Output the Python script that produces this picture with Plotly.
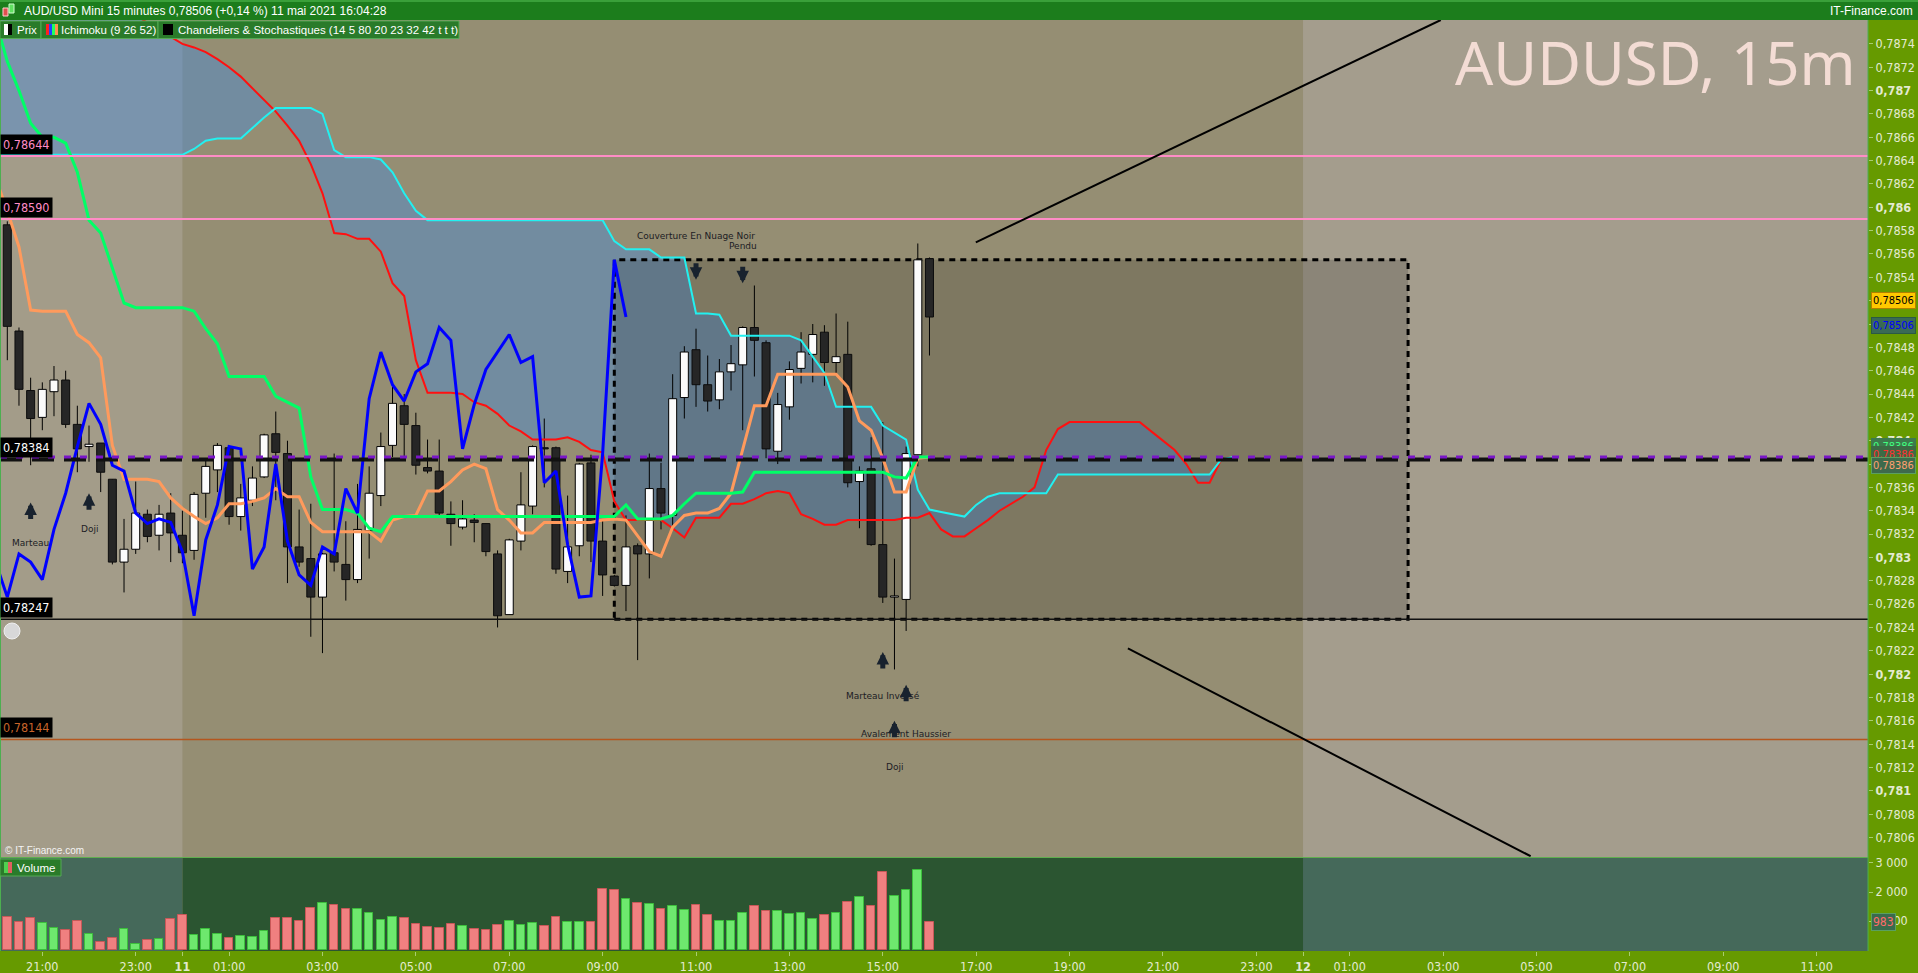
import pandas as pd
import plotly.graph_objects as go

# ---------------------------------------------------------------- data
bar_start = "2021-05-10 20:15"          # first 15-minute candle
bar_minutes = 15

opens = [0.78585, 0.78494, 0.78443, 0.78420, 0.78442, 0.78452, 0.78414, 0.78395, 0.78398, 0.78367,
         0.78296, 0.78307, 0.78337, 0.78319, 0.78338, 0.78319, 0.78306, 0.78355, 0.78375, 0.78394,
         0.78335, 0.78349, 0.78369, 0.78406, 0.78389, 0.78309, 0.78299, 0.78266, 0.78304, 0.78294,
         0.78281, 0.78323, 0.78353, 0.78396, 0.78430, 0.78413, 0.78377, 0.78374, 0.78337, 0.78326,
         0.78332, 0.78329, 0.78303, 0.78251, 0.78314, 0.78344, 0.78394, 0.78394, 0.78288, 0.78310,
         0.78381, 0.78314, 0.78284, 0.78276, 0.78310, 0.78303, 0.78359, 0.78336, 0.78437, 0.78478,
         0.78448, 0.78435, 0.78459, 0.78465, 0.78497, 0.78484, 0.78391, 0.78429, 0.78462, 0.78474,
         0.78493, 0.78467, 0.78474, 0.78365, 0.78376, 0.78311, 0.78266, 0.78264, 0.78388, 0.78556]
highs = [0.78588, 0.78497, 0.78454, 0.78450, 0.78464, 0.78460, 0.78430, 0.78413, 0.78398, 0.78367,
         0.78333, 0.78365, 0.78341, 0.78345, 0.78355, 0.78340, 0.78356, 0.78384, 0.78398, 0.78395,
         0.78363, 0.78378, 0.78406, 0.78425, 0.78400, 0.78341, 0.78346, 0.78304, 0.78389, 0.78331,
         0.78363, 0.78378, 0.78407, 0.78446, 0.78440, 0.78424, 0.78401, 0.78401, 0.78348, 0.78349,
         0.78337, 0.78329, 0.78306, 0.78316, 0.78373, 0.78396, 0.78419, 0.78395, 0.78353, 0.78381,
         0.78388, 0.78332, 0.78285, 0.78336, 0.78312, 0.78389, 0.78381, 0.78457, 0.78481, 0.78496,
         0.78473, 0.78470, 0.78482, 0.78498, 0.78533, 0.78486, 0.78441, 0.78468, 0.78493, 0.78500,
         0.78499, 0.78509, 0.78502, 0.78378, 0.78403, 0.78416, 0.78299, 0.78395, 0.78569, 0.78557]
lows = [0.78469, 0.78430, 0.78379, 0.78409, 0.78421, 0.78411, 0.78373, 0.78382, 0.78356, 0.78294,
        0.78270, 0.78303, 0.78313, 0.78306, 0.78296, 0.78295, 0.78298, 0.78334, 0.78356, 0.78328,
        0.78323, 0.78344, 0.78368, 0.78349, 0.78278, 0.78292, 0.78232, 0.78218, 0.78288, 0.78263,
        0.78278, 0.78299, 0.78344, 0.78386, 0.78386, 0.78371, 0.78372, 0.78336, 0.78310, 0.78324,
        0.78313, 0.78301, 0.78240, 0.78251, 0.78306, 0.78337, 0.78360, 0.78286, 0.78278, 0.78301,
        0.78296, 0.78267, 0.78275, 0.78254, 0.78212, 0.78282, 0.78324, 0.78325, 0.78419, 0.78429,
        0.78425, 0.78427, 0.78443, 0.78409, 0.78455, 0.78385, 0.78380, 0.78418, 0.78449, 0.78450,
        0.78447, 0.78458, 0.78360, 0.78325, 0.78310, 0.78261, 0.78204, 0.78237, 0.78378, 0.78473]
closes = [0.78498, 0.78444, 0.78419, 0.78444, 0.78452, 0.78414, 0.78393, 0.78397, 0.78373, 0.78296,
          0.78307, 0.78338, 0.78318, 0.78337, 0.78321, 0.78304, 0.78354, 0.78378, 0.78396, 0.78335,
          0.78351, 0.78368, 0.78405, 0.78390, 0.78309, 0.78296, 0.78266, 0.78303, 0.78296, 0.78281,
          0.78324, 0.78355, 0.78395, 0.78432, 0.78414, 0.78379, 0.78374, 0.78338, 0.78329, 0.78333,
          0.78330, 0.78305, 0.78250, 0.78315, 0.78345, 0.78395, 0.78393, 0.78290, 0.78309, 0.78380,
          0.78314, 0.78285, 0.78276, 0.78309, 0.78303, 0.78359, 0.78338, 0.78436, 0.78476, 0.78448,
          0.78434, 0.78459, 0.78466, 0.78497, 0.78486, 0.78393, 0.78431, 0.78461, 0.78476, 0.78491,
          0.78467, 0.78472, 0.78364, 0.78374, 0.78311, 0.78266, 0.78267, 0.78389, 0.78555, 0.78506]
volumes = [1126, 954, 1092, 919, 747, 678, 988, 540, 264, 402,
           712, 195, 333, 368, 1057, 1195, 506, 712, 540, 402,
           471, 437, 643, 1092, 1092, 988, 1436, 1609, 1540, 1402,
           1402, 1264, 1023, 1126, 1092, 885, 781, 747, 885, 816,
           712, 678, 850, 988, 850, 919, 816, 1126, 954, 954,
           954, 2091, 2057, 1746, 1609, 1574, 1402, 1505, 1367, 1540,
           1195, 988, 988, 1264, 1505, 1333, 1333, 1229, 1264, 1057,
           1195, 1264, 1643, 1815, 1505, 2677, 1850, 2057, 2746, 983]

# Ichimoku (9 26 52); lists start one bar before the first candle (bar -1)
ichi_first_bar = -1
tenkan_orange = [0.78625, 0.78597, 0.78566, 0.78512, 0.78511, 0.78511, 0.78511, 0.78491, 0.78484, 0.78471,
                 0.78396, 0.78367, 0.78367, 0.78367, 0.78365, 0.78351, 0.78342, 0.78335, 0.78329, 0.78334,
                 0.78346, 0.78346, 0.78348, 0.78351, 0.78359, 0.78352, 0.78352, 0.78330, 0.78322, 0.78322,
                 0.78322, 0.78322, 0.78322, 0.78314, 0.78332, 0.78335, 0.78336, 0.78357, 0.78357, 0.78365,
                 0.78375, 0.78380, 0.78376, 0.78341, 0.78332, 0.78321, 0.78321, 0.78330, 0.78330, 0.78330,
                 0.78330, 0.78330, 0.78332, 0.78333, 0.78332, 0.78318, 0.78305, 0.78301, 0.78326, 0.78336,
                 0.78338, 0.78338, 0.78342, 0.78355, 0.78392, 0.78430, 0.78430, 0.78457, 0.78457, 0.78457,
                 0.78457, 0.78457, 0.78457, 0.78446, 0.78417, 0.78409, 0.78385, 0.78356, 0.78356, 0.78385,
                 0.78386]
kijun_green = [0.78760, 0.78725, 0.78700, 0.78672, 0.78660, 0.78660, 0.78655, 0.78630, 0.78589, 0.78578,
               0.78548, 0.78518, 0.78514, 0.78514, 0.78514, 0.78514, 0.78514, 0.78511, 0.78496, 0.78483,
               0.78455, 0.78455, 0.78455, 0.78455, 0.78438, 0.78433, 0.78428, 0.78369, 0.78341, 0.78341,
               0.78341, 0.78338, 0.78325, 0.78322, 0.78335, 0.78335, 0.78335, 0.78335, 0.78335, 0.78335,
               0.78335, 0.78335, 0.78335, 0.78335, 0.78335, 0.78335, 0.78335, 0.78335, 0.78335, 0.78335,
               0.78335, 0.78335, 0.78335, 0.78335, 0.78345, 0.78333, 0.78333, 0.78333, 0.78336, 0.78346,
               0.78355, 0.78355, 0.78355, 0.78355, 0.78356, 0.78373, 0.78373, 0.78373, 0.78373, 0.78373,
               0.78373, 0.78373, 0.78373, 0.78373, 0.78373, 0.78373, 0.78373, 0.78369, 0.78368, 0.78386,
               0.78386]
senkou_a_red = [0.78840, 0.78835, 0.78830, 0.78825, 0.78820, 0.78815, 0.78810, 0.78805, 0.78800, 0.78795,
                0.78785, 0.78775, 0.78765, 0.78758, 0.78752, 0.78746, 0.78740, 0.78737, 0.78733, 0.78727,
                0.78720, 0.78712, 0.78702, 0.78692, 0.78682, 0.78670, 0.78657, 0.78637, 0.78612, 0.78578,
                0.78577, 0.78573, 0.78573, 0.78562, 0.78535, 0.78524, 0.78469, 0.78441, 0.78441, 0.78441,
                0.78440, 0.78433, 0.78430, 0.78423, 0.78413, 0.78408, 0.78401, 0.78401, 0.78401, 0.78403,
                0.78399, 0.78392, 0.78390, 0.78348, 0.78332, 0.78332, 0.78332, 0.78332, 0.78325, 0.78317,
                0.78334, 0.78334, 0.78334, 0.78346, 0.78346, 0.78350, 0.78355, 0.78357, 0.78355, 0.78337,
                0.78333, 0.78328, 0.78328, 0.78332, 0.78332, 0.78332, 0.78332, 0.78332, 0.78334, 0.78334,
                0.78338, 0.78324, 0.78318, 0.78318, 0.78325, 0.78332, 0.78340, 0.78346, 0.78352, 0.78360,
                0.78392, 0.78410, 0.78416, 0.78416, 0.78416, 0.78416, 0.78416, 0.78416, 0.78416, 0.78408,
                0.78400, 0.78392, 0.78380, 0.78364, 0.78364, 0.78384, 0.78386]
senkou_b_cyan = [0.78645, 0.78645, 0.78645, 0.78645, 0.78645, 0.78645, 0.78645, 0.78645, 0.78645, 0.78645,
                 0.78645, 0.78645, 0.78645, 0.78645, 0.78645, 0.78645, 0.78645, 0.78650, 0.78657, 0.78659,
                 0.78659, 0.78659, 0.78668, 0.78677, 0.78685, 0.78685, 0.78685, 0.78685, 0.78680, 0.78649,
                 0.78643, 0.78643, 0.78643, 0.78641, 0.78630, 0.78612, 0.78597, 0.78589, 0.78589, 0.78589,
                 0.78589, 0.78589, 0.78589, 0.78589, 0.78589, 0.78589, 0.78589, 0.78589, 0.78589, 0.78589,
                 0.78589, 0.78589, 0.78589, 0.78571, 0.78564, 0.78564, 0.78564, 0.78557, 0.78557, 0.78557,
                 0.78509, 0.78509, 0.78508, 0.78490, 0.78490, 0.78490, 0.78490, 0.78490, 0.78490, 0.78486,
                 0.78472, 0.78458, 0.78429, 0.78429, 0.78429, 0.78429, 0.78413, 0.78407, 0.78401, 0.78358,
                 0.78341, 0.78339, 0.78337, 0.78335, 0.78345, 0.78352, 0.78355, 0.78355, 0.78355, 0.78355,
                 0.78355, 0.78371, 0.78371, 0.78371, 0.78371, 0.78371, 0.78371, 0.78371, 0.78371, 0.78371,
                 0.78371, 0.78371, 0.78371, 0.78371, 0.78371, 0.78384, 0.78386]
chikou_shift = 26

# horizontal levels drawn on the chart
level_values = [0.78644, 0.78590, 0.78384, 0.78247, 0.78144]
level_labels = ["0,78644", "0,78590", "0,78384", "0,78247", "0,78144"]
level_colors = ["#ff8cc6", "#ff8cc6", "#111111", "#111111", "#b4561e"]
level_text_colors = ["#ff8cc6", "#ff8cc6", "#ffffff", "#ffffff", "#c8642a"]
last_price_line = 0.78386

# user drawn zone (bars / prices) and trend lines (bar index, price)
zone_bars = [52, 120]
zone_prices = [0.78247, 0.78555]
trend_up = [(82.97, 0.78570), (122.8, 0.787605)]
trend_down = [(96.0, 0.78222), (130.5, 0.78044)]

# candle patterns: (bar, label, direction, arrow tip price, label price)
patterns = [(2, "Marteau", "up", 0.78347, 0.78312),
            (7, "Doji", "up", 0.78355, 0.78324),
            (59, "Couverture En Nuage Noir", "down", 0.78538, 0.78575),
            (63, "Pendu", "down", 0.78535, 0.78567),
            (75, "Marteau Inversé", "up", 0.78219, 0.78181),
            (77, "Avalement Haussier", "up", 0.78191, 0.78149),
            (76, "Doji", "up", 0.78160, 0.78120)]

time_tick_values = ["2021-05-10 21:00", "2021-05-10 23:00", "2021-05-11 00:00", "2021-05-11 01:00",
                    "2021-05-11 03:00", "2021-05-11 05:00", "2021-05-11 07:00", "2021-05-11 09:00",
                    "2021-05-11 11:00", "2021-05-11 13:00", "2021-05-11 15:00", "2021-05-11 17:00",
                    "2021-05-11 19:00", "2021-05-11 21:00", "2021-05-11 23:00", "2021-05-12 00:00",
                    "2021-05-12 01:00", "2021-05-12 03:00", "2021-05-12 05:00", "2021-05-12 07:00",
                    "2021-05-12 09:00", "2021-05-12 11:00"]
time_tick_labels = ["21:00", "23:00", "<b>11</b>", "01:00", "03:00", "05:00", "07:00", "09:00",
                    "11:00", "13:00", "15:00", "17:00", "19:00", "21:00", "23:00", "<b>12</b>",
                    "01:00", "03:00", "05:00", "07:00", "09:00", "11:00"]
price_tick_values = [round(0.7806 + 0.0002 * k, 4) for k in range(35)]
volume_tick_values = [1000, 2000, 3000]
volume_tick_labels = ["1 000", "2 000", "3 000"]

# ---------------------------------------------------------------- helpers
t0 = pd.Timestamp(bar_start)
step = pd.Timedelta(minutes=bar_minutes)


def bar_time(i):
    return t0 + step * i


def ts(t):
    return t.strftime("%Y-%m-%d %H:%M:%S")


n = len(closes)
times = [ts(bar_time(i)) for i in range(n)]
ichi_times = [ts(bar_time(ichi_first_bar + k)) for k in range(len(senkou_a_red))]
line_times = [ts(bar_time(ichi_first_bar + k)) for k in range(len(tenkan_orange))]
chikou_x = [ts(bar_time(i)) for i in range(ichi_first_bar, n - chikou_shift)]
chikou_y = [closes[i + chikou_shift] for i in range(ichi_first_bar, n - chikou_shift)]

W, H = 1918, 973
PL, PR, PT, PB = 0, 1868, 20, 951


def px(x):
    return (x - PL) / (PR - PL)


def py(y):
    return (PB - y) / (PB - PT)


x_range = [ts(bar_time(-0.625)), ts(bar_time(159.4))]
price_range = [0.780433, 0.787605]
vol_range = [-34, 3172]

fig = go.Figure()

# Ichimoku cloud
fig.add_trace(go.Scatter(x=ichi_times, y=senkou_a_red, mode="lines", line=dict(width=0),
                         hoverinfo="skip", showlegend=False))
fig.add_trace(go.Scatter(x=ichi_times, y=senkou_b_cyan, mode="lines", line=dict(width=0),
                         fill="tonexty", fillcolor="rgba(66,138,225,0.42)",
                         hoverinfo="skip", showlegend=False))

# zone rectangle
zx0, zx1 = ts(bar_time(zone_bars[0])), ts(bar_time(zone_bars[1]))
fig.add_trace(go.Scatter(x=[zx0, zx1, zx1, zx0, zx0],
                         y=[zone_prices[0], zone_prices[0], zone_prices[1], zone_prices[1], zone_prices[0]],
                         mode="lines", fill="toself", fillcolor="rgba(0,0,0,0.15)",
                         line=dict(color="black", width=3, dash="6px,5px"),
                         hoverinfo="skip", showlegend=False))

# candles
half = step * 0.343
wx, wy = [], []
ux, uy, dx, dy = [], [], [], []
for i in range(n):
    t = bar_time(i)
    wx += [ts(t), ts(t), None]
    wy += [lows[i], highs[i], None]
    a, b = ts(t - half), ts(t + half)
    o, c = opens[i], closes[i]
    if c >= o:
        ux += [a, b, b, a, a, None]
        uy += [o, o, c, c, o, None]
    else:
        dx += [a, b, b, a, a, None]
        dy += [o, o, c, c, o, None]
fig.add_trace(go.Scatter(x=wx, y=wy, mode="lines", line=dict(color="black", width=1),
                         hoverinfo="skip", showlegend=False))
fig.add_trace(go.Scatter(x=ux, y=uy, mode="lines", fill="toself", fillcolor="#fbfbfb",
                         line=dict(color="black", width=1), hoverinfo="skip", showlegend=False))
fig.add_trace(go.Scatter(x=dx, y=dy, mode="lines", fill="toself", fillcolor="#262626",
                         line=dict(color="#0d0d0d", width=1), hoverinfo="skip", showlegend=False))

# Ichimoku lines
fig.add_trace(go.Scatter(x=ichi_times, y=senkou_a_red, mode="lines",
                         line=dict(color="#ff1010", width=2), hoverinfo="skip", showlegend=False))
fig.add_trace(go.Scatter(x=ichi_times, y=senkou_b_cyan, mode="lines",
                         line=dict(color="#22f0f0", width=2), hoverinfo="skip", showlegend=False))
fig.add_trace(go.Scatter(x=line_times, y=tenkan_orange, mode="lines",
                         line=dict(color="#ff9a5c", width=3), hoverinfo="skip", showlegend=False))
fig.add_trace(go.Scatter(x=line_times, y=kijun_green, mode="lines",
                         line=dict(color="#00ff66", width=3), hoverinfo="skip", showlegend=False))
fig.add_trace(go.Scatter(x=chikou_x, y=chikou_y, mode="lines",
                         line=dict(color="#0000ff", width=3), hoverinfo="skip", showlegend=False))

# volume
vcol = ["#6ee86e" if closes[i] >= opens[i] else "#f08080" for i in range(n)]
vline = ["#3cbf3c" if closes[i] >= opens[i] else "#c85858" for i in range(n)]
fig.add_trace(go.Bar(x=times, y=volumes, yaxis="y2", width=step.total_seconds() * 1000 * 0.74,
                     marker=dict(color=vcol, line=dict(color=vline, width=1)),
                     hoverinfo="skip", showlegend=False))

shapes = []
# session backgrounds
d11, d12 = "2021-05-11 00:00", "2021-05-12 00:00"
shapes.append(dict(type="rect", xref="x", yref="y domain", x0=x_range[0], x1=d11, y0=0, y1=1,
                   fillcolor="#a39c89", line=dict(width=0), layer="below"))
shapes.append(dict(type="rect", xref="x", yref="y domain", x0=d12, x1=x_range[1], y0=0, y1=1,
                   fillcolor="#a49d8d", line=dict(width=0), layer="below"))
shapes.append(dict(type="rect", xref="x", yref="y2 domain", x0=x_range[0], x1=d11, y0=0, y1=1,
                   fillcolor="#45695a", line=dict(width=0), layer="below"))
shapes.append(dict(type="rect", xref="x", yref="y2 domain", x0=d12, x1=x_range[1], y0=0, y1=1,
                   fillcolor="#45695a", line=dict(width=0), layer="below"))
shapes.append(dict(type="rect", xref="x", yref="y2 domain", x0=d11, x1=d12, y0=0, y1=1,
                   fillcolor="#2b5531", line=dict(width=0), layer="below"))

# horizontal levels
for v, col in zip(level_values, level_colors):
    if v == 0.78384:
        shapes.append(dict(type="line", xref="x domain", yref="y", x0=0, x1=1, y0=v, y1=v,
                           line=dict(color=col, width=4, dash="22px,10px"), layer="above"))
    elif col == "#ff8cc6":
        shapes.append(dict(type="line", xref="x domain", yref="y", x0=0, x1=1, y0=v, y1=v,
                           line=dict(color=col, width=2), layer="above"))
    else:
        shapes.append(dict(type="line", xref="x domain", yref="y", x0=0, x1=1, y0=v, y1=v,
                           line=dict(color=col, width=1.3), layer="above"))
shapes.append(dict(type="line", xref="x domain", yref="y", x0=0.0, x1=1, y0=last_price_line,
                   y1=last_price_line, line=dict(color="#7a16c8", width=3, dash="7px,9px"), layer="above"))

# trend lines
for (b0, p0), (b1, p1) in (trend_up, trend_down):
    shapes.append(dict(type="line", xref="x", yref="y", x0=ts(bar_time(b0)), x1=ts(bar_time(b1)),
                       y0=p0, y1=p1, line=dict(color="black", width=2), layer="above"))

# frame / separators
shapes.append(dict(type="line", xref="paper", yref="paper", x0=0, x1=1, y0=py(857.5), y1=py(857.5),
                   line=dict(color="#5fae4f", width=1)))
shapes.append(dict(type="line", xref="paper", yref="paper", x0=px(0.5), x1=px(0.5), y0=0, y1=1,
                   line=dict(color="#4caf50", width=1)))
shapes.append(dict(type="line", xref="paper", yref="paper", x0=1, x1=1, y0=0, y1=1,
                   line=dict(color="#4caf50", width=1)))

# title bar
shapes.append(dict(type="rect", xref="paper", yref="paper", x0=px(0), x1=px(W), y0=py(20), y1=py(0),
                   fillcolor="#1c7d1c", line=dict(width=0)))
shapes.append(dict(type="rect", xref="paper", yref="paper", x0=px(0), x1=px(W), y0=py(2), y1=py(0),
                   fillcolor="#3aa03a", line=dict(width=0)))
shapes.append(dict(type="rect", xref="paper", yref="paper", x0=px(3), x1=px(8), y0=py(16), y1=py(8),
                   fillcolor="#e05050", line=dict(color="#ffd0d0", width=1)))
shapes.append(dict(type="rect", xref="paper", yref="paper", x0=px(9), x1=px(14), y0=py(13), y1=py(4),
                   fillcolor="#60e060", line=dict(color="#d0ffd0", width=1)))

# legend boxes
for x0, x1 in [(0, 41), (41, 158), (158, 459)]:
    shapes.append(dict(type="rect", xref="paper", yref="paper", x0=px(x0), x1=px(x1), y0=py(38.5),
                       y1=py(21), fillcolor="#2a7b2a", line=dict(color="#55aa55", width=1)))
shapes.append(dict(type="rect", xref="paper", yref="paper", x0=px(4), x1=px(8), y0=py(35), y1=py(24),
                   fillcolor="white", line=dict(width=0)))
shapes.append(dict(type="rect", xref="paper", yref="paper", x0=px(8), x1=px(12), y0=py(35), y1=py(24),
                   fillcolor="black", line=dict(width=0)))
for k, c in enumerate(["#ff2020", "#2040ff", "#20ff60", "#ff9050"]):
    shapes.append(dict(type="rect", xref="paper", yref="paper", x0=px(46 + 3 * k), x1=px(49 + 3 * k),
                       y0=py(35), y1=py(24), fillcolor=c, line=dict(width=0)))
shapes.append(dict(type="rect", xref="paper", yref="paper", x0=px(163), x1=px(173), y0=py(35), y1=py(24),
                   fillcolor="black", line=dict(width=0)))
shapes.append(dict(type="rect", xref="paper", yref="paper", x0=px(0), x1=px(61), y0=py(876), y1=py(859),
                   fillcolor="#2a7b2a", line=dict(color="#55aa55", width=1)))
shapes.append(dict(type="rect", xref="paper", yref="paper", x0=px(4), x1=px(8), y0=py(873), y1=py(862),
                   fillcolor="#50d050", line=dict(width=0)))
shapes.append(dict(type="rect", xref="paper", yref="paper", x0=px(8), x1=px(12), y0=py(873), y1=py(862),
                   fillcolor="#e06060", line=dict(width=0)))
shapes.append(dict(type="circle", xref="paper", yref="paper", x0=px(4), x1=px(20), y0=py(639), y1=py(623),
                   fillcolor="#d8d8d8", line=dict(color="#f0f0f0", width=1)))

annotations = []
FONT = "Liberation Sans, Arial, sans-serif"
NARROW = "Liberation Sans Narrow, DejaVu Sans Condensed, sans-serif"
annotations.append(dict(xref="paper", yref="paper", x=px(22), y=py(10.5), xanchor="left", yanchor="middle",
                        text="AUD/USD Mini 15 minutes 0,78506 (+0,14 %) 11 mai 2021 16:04:28",
                        showarrow=False, font=dict(family=FONT, size=12, color="white")))
annotations.append(dict(xref="paper", yref="paper", x=px(1915), y=py(10.5), xanchor="right", yanchor="middle",
                        text="IT-Finance.com", showarrow=False, font=dict(family=FONT, size=12, color="white")))
for x, txt in [(15, "Prix"), (59, "Ichimoku (9 26 52)"),
               (176, "Chandeliers &amp; Stochastiques (14 5 80 20 23 32 42 t t t)")]:
    annotations.append(dict(xref="paper", yref="paper", x=px(x), y=py(30), xanchor="left", yanchor="middle",
                            text=txt, showarrow=False, font=dict(family=FONT, size=11.5, color="white")))
annotations.append(dict(xref="paper", yref="paper", x=px(15), y=py(868), xanchor="left", yanchor="middle",
                        text="Volume", showarrow=False, font=dict(family=FONT, size=11.5, color="white")))
annotations.append(dict(xref="paper", yref="paper", x=px(3), y=py(850), xanchor="left", yanchor="middle",
                        text="© IT-Finance.com", showarrow=False, font=dict(family=FONT, size=10, color="#f4f4f4")))
annotations.append(dict(xref="paper", yref="paper", x=px(1858), y=py(62), xanchor="right", yanchor="middle",
                        text="AUDUSD, 15m", showarrow=False,
                        font=dict(family="Noto Sans, sans-serif", size=60, color="#f3dcd4")))

# level labels on the left
for v, lab, tc in zip(level_values, level_labels, level_text_colors):
    annotations.append(dict(xref="paper", yref="y", x=0, y=v, xanchor="left", yanchor="bottom",
                            text=lab, showarrow=False, bgcolor="black", borderpad=2, yshift=1,
                            font=dict(family=NARROW, size=12.5, color=tc)))

# price tags on the right axis
for txt, v, shift, bg, fc, bc in [
        ("0,78386", 0.78386, 11, "#3d7a4d", "#40ff80", "#3d7a4d"),
        ("0,78386", 0.78386, 3, "#3d6a45", "#ff3030", "#3d6a45"),
        ("0,78386", 0.78386, -8, "#3e6a4c", "#ffa070", "#5aa060"),
        ("0,78506", 0.78506, 17, "#ffc800", "#000000", "#b08000"),
        ("0,78506", 0.78506, -8, "#3a6a55", "#0000ff", "#2a5a45")]:
    annotations.append(dict(xref="paper", yref="y", x=px(1871), y=v, xanchor="left", yanchor="middle",
                            text=txt, showarrow=False, bgcolor=bg, bordercolor=bc, borderwidth=1,
                            borderpad=1, yshift=shift, font=dict(family=NARROW, size=11, color=fc)))
annotations.append(dict(xref="paper", yref="y2", x=px(1871), y=volumes[-1], xanchor="left", yanchor="middle",
                        text=f"{volumes[-1]}", showarrow=False, bgcolor="#3a6a4e", bordercolor="#5aa060",
                        borderwidth=1, borderpad=1, font=dict(family=NARROW, size=12, color="#ff6a6a")))

# candle pattern markers (thick arrow: head + stem)
for bar, lab, direction, tip, lab_p in patterns:
    xb = ts(bar_time(bar))
    annotations.append(dict(x=xb, y=tip, xref="x", yref="y", showarrow=True, text="",
                            ax=0, ay=18 if direction == "up" else -18, arrowhead=2, arrowsize=0.5,
                            arrowwidth=5, arrowcolor="#18222e"))
    annotations.append(dict(x=xb, y=lab_p, xref="x", yref="y", showarrow=False, text=lab,
                            font=dict(family="DejaVu Sans, sans-serif", size=9, color="#1c1c24")))

price_tick_text = []
for v in price_tick_values:
    s = f"{v:.4f}".rstrip("0").replace(".", ",")
    price_tick_text.append(f"<b>{s}</b>" if len(s) <= 5 else s)

fig.update_layout(
    width=W, height=H, autosize=False,
    margin=dict(l=PL, r=W - PR, t=PT, b=H - PB, pad=0),
    paper_bgcolor="#669a00", plot_bgcolor="#958e73",
    showlegend=False, bargap=0,
    shapes=shapes, annotations=annotations,
    xaxis=dict(type="date", range=x_range, anchor="y2", showgrid=False, zeroline=False,
               tickmode="array", tickvals=time_tick_values, ticktext=time_tick_labels,
               ticks="outside", ticklen=4, tickcolor="#a8cc70",
               tickfont=dict(family=NARROW, size=12.5, color="#e4ead0"), showline=False,
               rangeslider=dict(visible=False)),
    yaxis=dict(domain=[py(857), 1], range=price_range, side="right", anchor="x", showgrid=False,
               zeroline=False, tickmode="array", tickvals=price_tick_values, ticktext=price_tick_text,
               ticks="outside", ticklen=4, tickcolor="#a8cc70",
               tickfont=dict(family=NARROW, size=12.5, color="#e4ead0")),
    yaxis2=dict(domain=[0, py(858)], range=vol_range, side="right", anchor="x", showgrid=False,
                zeroline=False, tickmode="array", tickvals=volume_tick_values, ticktext=volume_tick_labels,
                ticks="outside", ticklen=4, tickcolor="#a8cc70",
                tickfont=dict(family=NARROW, size=12.5, color="#e4ead0")),
)

fig.write_html("out.html", config={"displayModeBar": False},
               post_script="document.body.style.margin='0';document.body.style.overflow='hidden';")
